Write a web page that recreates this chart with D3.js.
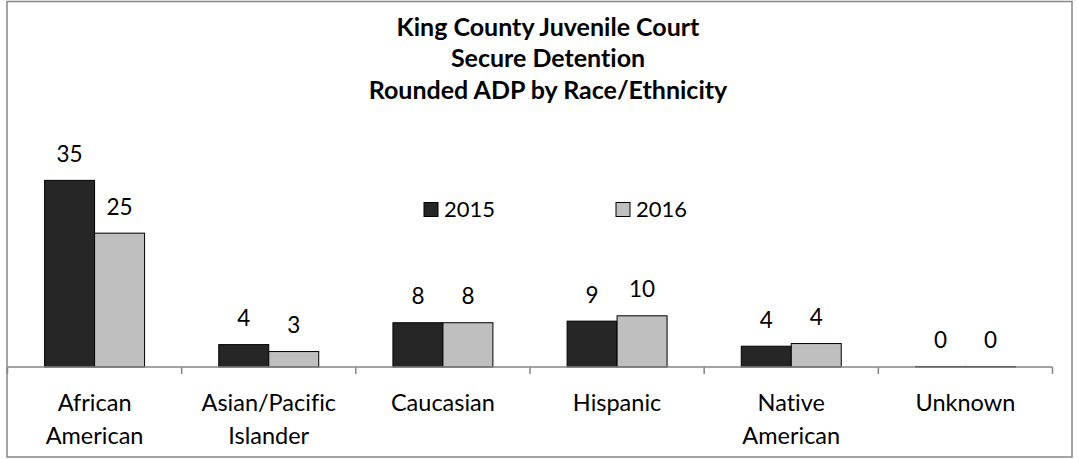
<!DOCTYPE html>
<html>
<head>
<meta charset="utf-8">
<script src="https://cdn.jsdelivr.net/npm/d3@7"></script>
<style>
  html, body { margin: 0; padding: 0; background: #fff; }
  svg { display: block; }
  text { font-family: Lato, "Open Sans", sans-serif; fill: #000; font-variant-ligatures: none; font-feature-settings: "liga" 0, "dlig" 0; }
</style>
</head>
<body>
<svg id="chart" width="1078" height="459"></svg>
<script>
const titleLines = ["King County Juvenile Court", "Secure Detention", "Rounded ADP by Race/Ethnicity"];
const categories = ["African American", "Asian/Pacific Islander", "Caucasian", "Hispanic", "Native American", "Unknown"];
const seriesNames = ["2015", "2016"];
const values2015 = [35.0, 4.2, 8.3, 8.6, 3.9, 0.1];
const values2016 = [25.1, 2.9, 8.3, 9.6, 4.4, 0.1];
const seriesColors = ["#262626", "#bfbfbf"];

const svg = d3.select("#chart");

// outer border
svg.append("rect").attr("x", 7).attr("y", 1.5).attr("width", 1065).attr("height", 455.5)
  .attr("fill", "#fff").attr("stroke", "#868686").attr("stroke-width", 1.5);

const x = d3.scaleBand().domain(categories).range([7.5, 1052.5]).padding(0);
const x1 = d3.scaleBand().domain(seriesNames).range([0, x.bandwidth()]).paddingInner(0).paddingOuter(0.742);
const y = d3.scaleLinear().domain([0, 40]).range([367, 153.7]);

// title
svg.append("g").selectAll("text").data(titleLines).join("text")
  .attr("x", 548).attr("y", (d, i) => 35.5 + i * 31.8)
  .attr("text-anchor", "middle").attr("font-weight", "bold").attr("font-size", 25)
  .text(d => d);

const data = categories.map((c, i) => ({cat: c, vals: [values2015[i], values2016[i]]}));

const groups = svg.append("g").selectAll("g").data(data).join("g")
  .attr("transform", d => `translate(${x(d.cat)},0)`);

groups.selectAll("rect").data(d => d.vals.map((v, j) => ({v, s: seriesNames[j], j}))).join("rect")
  .attr("x", d => x1(d.s)).attr("width", x1.bandwidth())
  .attr("y", d => y(d.v)).attr("height", d => y(0) - y(d.v))
  .attr("fill", d => seriesColors[d.j]).attr("stroke", "#000").attr("stroke-width", 1);

groups.selectAll("text.val").data(d => d.vals.map((v, j) => ({v, s: seriesNames[j]}))).join("text")
  .attr("class", "val")
  .attr("x", d => x1(d.s) + x1.bandwidth() / 2).attr("y", d => y(d.v) - 18.5)
  .attr("text-anchor", "middle").attr("font-size", 22.5)
  .text(d => Math.round(d.v));

// axis
const axisG = svg.append("g");
axisG.append("line").attr("x1", x.range()[0]).attr("x2", x.range()[1])
  .attr("y1", y(0)).attr("y2", y(0)).attr("stroke", "#868686").attr("stroke-width", 1.5);
const boundaries = categories.map(c => x(c)).concat([x.range()[1]]);
axisG.selectAll("line.tick").data(boundaries).join("line").attr("class", "tick")
  .attr("x1", d => d).attr("x2", d => d).attr("y1", y(0)).attr("y2", y(0) + 7)
  .attr("stroke", "#868686").attr("stroke-width", 1.5);

// category labels
const catG = svg.append("g").selectAll("text").data(categories).join("text")
  .attr("text-anchor", "middle").attr("font-size", 23.5)
  .attr("x", d => x(d) + x.bandwidth() / 2).attr("y", 411);
catG.selectAll("tspan").data(d => d.split(" ")).join("tspan")
  .attr("x", function() { return d3.select(this.parentNode).attr("x"); })
  .attr("dy", (d, i) => i === 0 ? 0 : 32.6)
  .text(d => d);

// legend
const legendX = [424, 616];
const leg = svg.append("g").selectAll("g").data(seriesNames).join("g")
  .attr("transform", (d, i) => `translate(${legendX[i]},202.5)`);
leg.append("rect").attr("width", 14).attr("height", 14)
  .attr("fill", (d, i) => seriesColors[i]).attr("stroke", "#000").attr("stroke-width", 1);
leg.append("text").attr("x", 20).attr("y", 14.5).attr("font-size", 22).text(d => d);
</script>
</body>
</html>
